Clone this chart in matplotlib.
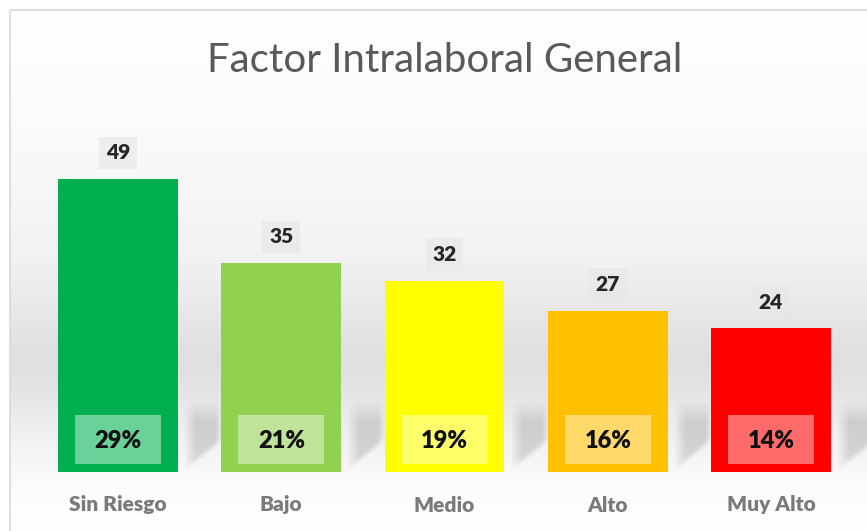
import numpy as np
import matplotlib
matplotlib.use("Agg")
import matplotlib.pyplot as plt
from matplotlib.patches import Rectangle

categories = ["Sin Riesgo", "Bajo", "Medio", "Alto", "Muy Alto"]
counts = [49, 35, 32, 27, 24]
percents = [29, 21, 19, 16, 14]
colors = ["#00B050", "#92D050", "#FFFF00", "#FFC000", "#FF0000"]
title = "Factor Intralaboral General"

W, H = 867, 531
plt.rcParams["font.family"] = ["Lato", "DejaVu Sans"]

fig = plt.figure(figsize=(W / 100, H / 100), dpi=100)
fig.patch.set_facecolor("white")

# Background layer in pixel coordinates
bg = fig.add_axes([0, 0, 1, 1], zorder=0)
bg.axis("off")

# vertical shading: white at top, gray band in the middle, lighter again at the floor
rows = np.arange(H)
shade = np.interp(rows, [0, 110, 250, 355, 380, 440, 490, 531],
                  [1.0, 0.985, 0.95, 0.875, 0.89, 0.95, 0.99, 1.0])
img = np.repeat(shade[:, None], 2, axis=1)
img = np.dstack([img, img, img])
bg.imshow(img, extent=[10, W, 531, 10], aspect="auto", zorder=0)

# chart area border
bg.add_patch(Rectangle((10, 10), W, H, fill=False, edgecolor="#d9d9d9", lw=1.2, zorder=1))

# main plotting axes
ax_left, ax_right = 36.4, 852.6
y0_px, ytop_px = 472, 100
px_per_unit = 5.98
ymax = (y0_px - ytop_px) / px_per_unit
ax = fig.add_axes([ax_left / W, (H - y0_px) / H, (ax_right - ax_left) / W, (y0_px - ytop_px) / H],
                  zorder=2)
ax.patch.set_alpha(0)
ax.set_xlim(-0.5, len(categories) - 0.5)
ax.set_ylim(0, ymax)
ax.axis("off")

x = np.arange(len(categories))
bw = 0.735
ppx = (ax_right - ax_left) / len(categories)  # pixels per x unit
unit_y = 1 / px_per_unit

# soft floor shadows to the right of each bar
sw, sh = 46, 80
gx, gy = np.meshgrid(np.arange(sw) + 0.5, np.arange(sh) + 0.5)
sy = 472 - sh + gy  # pixel rows
ramp_in = np.clip((gx - 6) / 12, 0, 1)
ramp_out = np.clip((45 - gx) / 8, 0, 1)
top_fade = np.clip((sy - 400) / 22, 0, 1)
bottom_edge = 472 - np.clip(gx - 8, 0, None) * 0.8
bot_fade = np.clip((bottom_edge - sy) / 8, 0, 1)
alpha = 0.17 * ramp_in * ramp_out * top_fade * bot_fade
shadow = np.zeros((sh, sw, 4))
shadow[..., :3] = 0.2
shadow[..., 3] = alpha
for xi in x:
    r_px = ax_left + (xi + 0.5 + bw / 2) * ppx
    bg.imshow(shadow, extent=[r_px, r_px + sw, 472, 472 - sh], aspect="auto",
              interpolation="bilinear", zorder=0.5)
bg.set_xlim(0, W)
bg.set_ylim(H, 0)

ax.bar(x, counts, width=bw, color=colors, zorder=3)

for xi, c, p in zip(x, counts, percents):
    # count above the bar
    ax.text(xi, c + 26 * unit_y, f"{c}", ha="center", va="center", fontsize=15,
            fontweight="heavy", color="#262626", zorder=5,
            bbox=dict(boxstyle="square,pad=0.32", facecolor="#e8e8e8", edgecolor="none", alpha=0.7))
    # percentage inside the bar
    bx_w = 86 / ppx
    bx_h = 49 * unit_y
    ax.add_patch(Rectangle((xi - bx_w / 2, (472 - 464) * unit_y), bx_w, bx_h,
                           facecolor=(1, 1, 1, 0.42), edgecolor="none", zorder=4))
    ax.text(xi, (472 - 441) * unit_y, f"{p}%", ha="center", va="center", fontsize=17,
            fontweight="heavy", color="#111111", zorder=5)

# category names under the bars
for xi, name in zip(x, categories):
    fig.text((ax_left + (xi + 0.5) * ppx) / W, (H - 505) / H, name, ha="center", va="center",
             fontsize=15, fontweight="heavy", color="#7a7a7a", zorder=5)

fig.text(445 / W, (H - 60) / H, title, ha="center", va="center", fontsize=29,
         color="#595959", zorder=5)

fig.savefig("out.png", dpi=100)
